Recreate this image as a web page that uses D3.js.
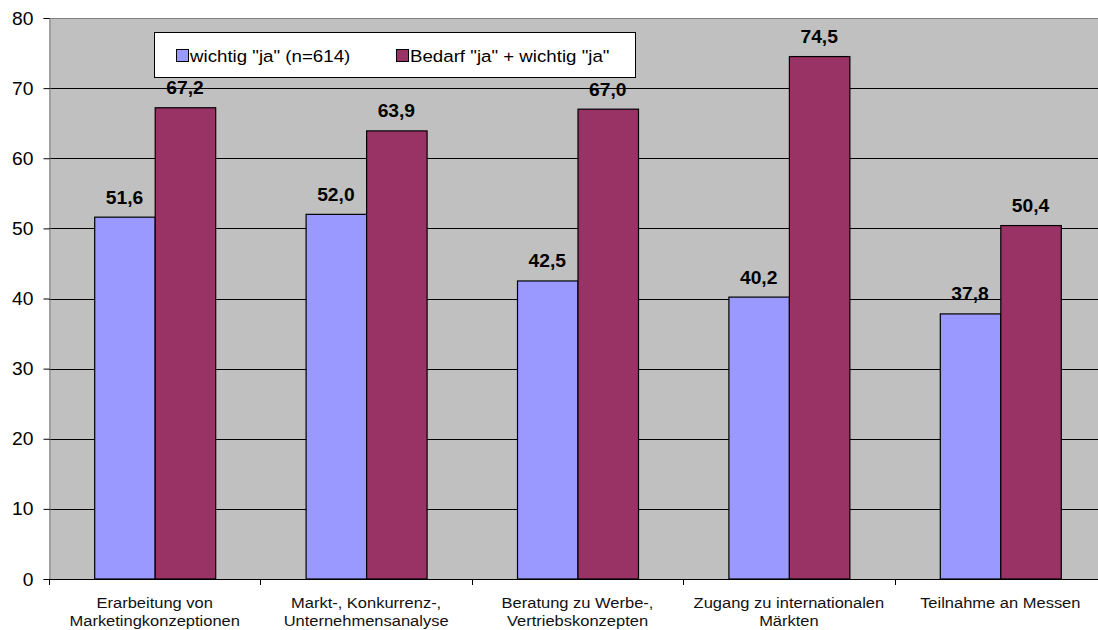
<!DOCTYPE html>
<html>
<head>
<meta charset="utf-8">
<script src="https://cdn.jsdelivr.net/npm/d3@7/dist/d3.min.js"></script>
<style>
  html, body { margin: 0; padding: 0; background: #fff; }
  svg { display: block; font-family: "Liberation Sans", Arial, sans-serif; }
</style>
</head>
<body>
<svg id="chart" width="1098" height="630"></svg>
<script>
// Categories (two-line labels)
const categories = [
  ["Erarbeitung von", "Marketingkonzeptionen"],
  ["Markt-, Konkurrenz-,", "Unternehmensanalyse"],
  ["Beratung zu Werbe-,", "Vertriebskonzepten"],
  ["Zugang zu internationalen", "Märkten"],
  ["Teilnahme an Messen"]
];
const seriesNames = ['wichtig "ja" (n=614)', 'Bedarf "ja" + wichtig "ja"'];
const wichtig = [51.6, 52.0, 42.5, 40.2, 37.8];
const bedarf = [67.2, 63.9, 67.0, 74.5, 50.4];
const yTicks = [0, 10, 20, 30, 40, 50, 60, 70, 80];
const colors = ["#9999FF", "#993366"];

const series = [wichtig, bedarf];
const svg = d3.select("#chart");
const stretch = 1.1; // horizontally widened lettering

const plot = { left: 49, right: 1106, top: 18, bottom: 579 };

const y = d3.scaleLinear().domain([0, 80]).range([plot.bottom, plot.top]);
const gap = 0.4277;
const x0 = d3.scaleBand().domain(d3.range(categories.length))
  .range([plot.left, plot.right]).paddingInner(gap).paddingOuter(gap / 2);
const x1 = d3.scaleBand().domain([0, 1]).range([0, x0.bandwidth()]).padding(0);

const locale = d3.formatLocale({ decimal: ",", thousands: ".", grouping: [3], currency: ["", "€"] });
const fmt = locale.format(".1f");

function stretchedText(g, x, yPos, str, size, weight) {
  return g.append("g")
    .attr("transform", `translate(${x},${yPos}) scale(${stretch},1)`)
    .append("text")
    .attr("text-anchor", "middle")
    .attr("font-size", size)
    .attr("font-weight", weight || "normal")
    .attr("fill", "#000")
    .text(str);
}

// plot background
svg.append("rect")
  .attr("x", plot.left).attr("y", plot.top)
  .attr("width", plot.right - plot.left).attr("height", plot.bottom - plot.top)
  .attr("fill", "#C0C0C0");

// top border
svg.append("line")
  .attr("x1", plot.left).attr("x2", plot.right)
  .attr("y1", plot.top + 0.5).attr("y2", plot.top + 0.5)
  .attr("stroke", "#808080").attr("stroke-width", 1);

// gridlines
svg.append("g").selectAll("line").data(yTicks.filter(t => t > 0 && t < 80)).join("line")
  .attr("x1", plot.left).attr("x2", plot.right)
  .attr("y1", d => Math.round(y(d)) + 0.5).attr("y2", d => Math.round(y(d)) + 0.5)
  .attr("stroke", "#000").attr("stroke-width", 1);

// y axis
const yAxis = svg.append("g")
  .attr("transform", `translate(${plot.left + 0.5},0)`)
  .call(d3.axisLeft(y).tickValues(yTicks).tickSize(6).tickPadding(10).tickFormat(d3.format("d")));
yAxis.select(".domain").attr("stroke", "#808080");
yAxis.selectAll(".tick line").attr("stroke", "#000");
yAxis.selectAll(".tick text").remove();
yAxis.selectAll(".tick").each(function (d) {
  const g = d3.select(this);
  g.append("g")
    .attr("transform", `translate(-16,6) scale(${stretch},1)`)
    .append("text")
    .attr("text-anchor", "end")
    .attr("font-size", 17.5)
    .attr("fill", "#000")
    .text(d);
});

// bars
const groups = svg.append("g").selectAll("g").data(categories).join("g")
  .attr("transform", (d, i) => `translate(${x0(i)},0)`);

groups.each(function (cat, i) {
  const g = d3.select(this);
  series.forEach((vals, s) => {
    const v = vals[i];
    g.append("rect")
      .attr("x", x1(s) + 0.5)
      .attr("y", y(v))
      .attr("width", x1.bandwidth())
      .attr("height", y(0) - y(v))
      .attr("fill", colors[s])
      .attr("stroke", "#000")
      .attr("stroke-width", 1.2);
    stretchedText(g, x1(s) + x1.bandwidth() / 2, y(v) - 13.5, fmt(v), 17.5, "bold");
  });
});

// x axis line
svg.append("line")
  .attr("x1", plot.left).attr("x2", plot.right)
  .attr("y1", plot.bottom + 0.5).attr("y2", plot.bottom + 0.5)
  .attr("stroke", "#000").attr("stroke-width", 1.2);

// category boundary ticks
const boundaries = d3.range(categories.length + 1).map(i => x0(0) - x0.step() * gap / 2 + i * x0.step());
svg.append("g").selectAll("line").data(boundaries).join("line")
  .attr("x1", d => Math.round(d) + 0.5).attr("x2", d => Math.round(d) + 0.5)
  .attr("y1", plot.bottom).attr("y2", plot.bottom + 6)
  .attr("stroke", "#000");

// category labels
categories.forEach((lines, i) => {
  const cx = x0(i) + x0.bandwidth() / 2;
  lines.forEach((ln, k) => {
    stretchedText(svg, cx, 608 + k * 17.5, ln, 15, "normal").attr("fill", "#111");
  });
});

// legend
const lg = svg.append("g");
lg.append("rect")
  .attr("x", 154.5).attr("y", 32.5).attr("width", 481).attr("height", 45)
  .attr("fill", "#fff").attr("stroke", "#000").attr("stroke-width", 1);
const legendItems = [
  { x: 176, tx: 190 },
  { x: 396, tx: 410 }
];
seriesNames.forEach((name, s) => {
  lg.append("rect")
    .attr("x", legendItems[s].x + 0.5).attr("y", 49.5)
    .attr("width", 12).attr("height", 12)
    .attr("fill", colors[s]).attr("stroke", "#000").attr("stroke-width", 1);
  lg.append("g")
    .attr("transform", `translate(${legendItems[s].tx},62) scale(${stretch},1)`)
    .append("text")
    .attr("font-size", 17)
    .attr("fill", "#000")
    .text(name);
});
</script>
</body>
</html>
